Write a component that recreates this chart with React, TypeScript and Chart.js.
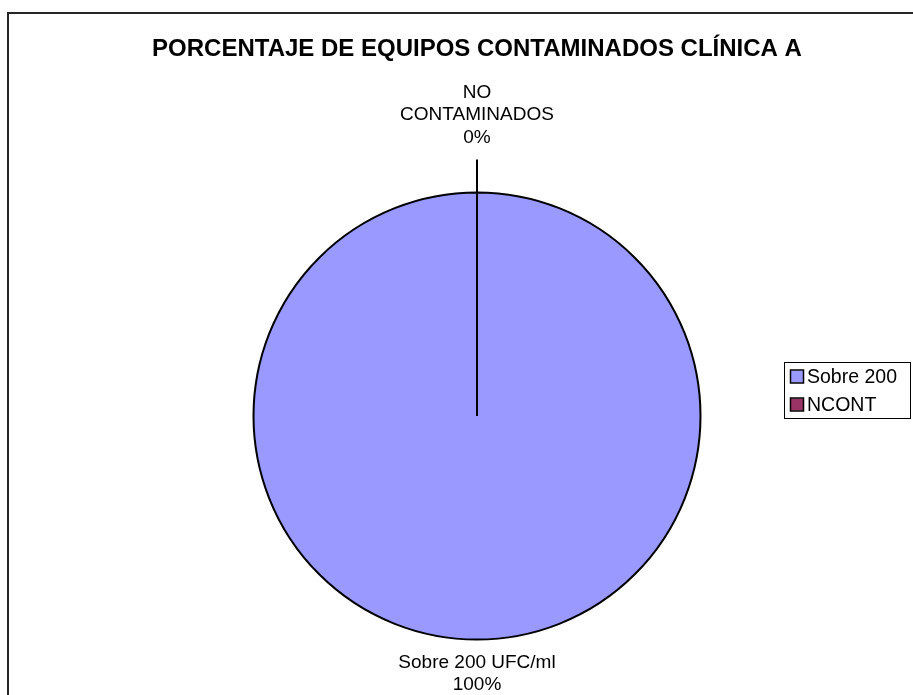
import React, { useEffect, useRef } from "react";
import { Chart, registerables } from "chart.js";

Chart.register(...registerables);

const titleText = "PORCENTAJE DE EQUIPOS CONTAMINADOS CLÍNICA A";
const categories = ["Sobre 200", "NCONT"];
const sliceNames = [["Sobre 200 UFC/ml"], ["NO", "CONTAMINADOS"]];
const values = [100, 0];
const colors = ["#9999FF", "#993366"];

const FONT = "Arial, 'Liberation Sans', Helvetica, sans-serif";

const framePlugin = {
  id: "frame",
  beforeDraw(chart: any) {
    const ctx = chart.ctx;
    ctx.save();
    ctx.fillStyle = "#ffffff";
    ctx.fillRect(0, 0, chart.width, chart.height);
    ctx.strokeStyle = "#262626";
    ctx.lineWidth = 2;
    ctx.beginPath();
    ctx.moveTo(8, chart.height);
    ctx.lineTo(8, 13);
    ctx.lineTo(chart.width, 13);
    ctx.stroke();
    ctx.restore();
  },
};

const sliceLabelPlugin = {
  id: "sliceLabels",
  afterDatasetsDraw(chart: any) {
    const ctx = chart.ctx;
    const meta = chart.getDatasetMeta(0);
    const data = chart.data.datasets[0].data as number[];
    const total = data.reduce((a, b) => a + b, 0);
    ctx.save();
    meta.data.forEach((arc: any, i: number) => {
      const p = arc.getProps(["x", "y", "startAngle", "endAngle", "outerRadius"], true);
      const mid = (p.startAngle + p.endAngle) / 2;
      const cos = Math.cos(mid);
      const sin = Math.sin(mid);
      if (data[i] === 0) {
        ctx.strokeStyle = "#000";
        ctx.lineWidth = 2;
        ctx.beginPath();
        ctx.moveTo(p.x, p.y);
        ctx.lineTo(p.x + cos * (p.outerRadius + 33), p.y + sin * (p.outerRadius + 33));
        ctx.stroke();
      }
      const pct = Math.round((data[i] / total) * 100) + "%";
      const lines = [...sliceNames[i], pct];
      const lh = 22.5;
      ctx.fillStyle = "#000";
      ctx.font = `19px ${FONT}`;
      ctx.textAlign = "center";
      ctx.textBaseline = "middle";
      if (sin < 0) {
        const ay = p.y + sin * (p.outerRadius + 55);
        const ax = p.x + cos * (p.outerRadius + 55);
        lines.forEach((t, k) => {
          ctx.fillText(t, ax, ay - (lines.length - 1 - k) * lh);
        });
      } else {
        const ay = p.y + sin * (p.outerRadius + 23);
        const ax = p.x + cos * (p.outerRadius + 23);
        lines.forEach((t, k) => {
          ctx.fillText(t, ax, ay + k * lh);
        });
      }
    });
    ctx.restore();
  },
};

const legendPlugin = {
  id: "boxLegend",
  afterDraw(chart: any) {
    const ctx = chart.ctx;
    const labels = chart.data.labels as string[];
    const bg = chart.data.datasets[0].backgroundColor as string[];
    ctx.save();
    ctx.strokeStyle = "#000";
    ctx.lineWidth = 1;
    ctx.strokeRect(784.5, 362.5, 126, 56);
    ctx.font = `19.5px ${FONT}`;
    ctx.textAlign = "left";
    ctx.textBaseline = "middle";
    labels.forEach((lab, i) => {
      const cy = 377 + i * 28;
      ctx.fillStyle = bg[i];
      ctx.fillRect(791, cy - 6.5, 12, 12);
      ctx.lineWidth = 1.5;
      ctx.strokeRect(790.5, cy - 7, 13, 13);
      ctx.fillStyle = "#000";
      ctx.fillText(lab, 807, cy + 1);
    });
    ctx.restore();
  },
};

export default function App() {
  const ref = useRef<HTMLCanvasElement | null>(null);
  useEffect(() => {
    if (!ref.current) return;
    const chart = new Chart(ref.current, {
      type: "pie",
      data: {
        labels: categories,
        datasets: [
          {
            data: values,
            backgroundColor: colors,
            borderColor: "#000000",
            borderWidth: 2,
          },
        ],
      },
      options: {
        responsive: false,
        animation: false,
        layout: { padding: { left: 50, right: 9, top: 0, bottom: 54.5 } },
        plugins: {
          legend: { display: false },
          tooltip: { enabled: false },
          title: {
            display: true,
            text: titleText,
            color: "#000",
            font: { family: FONT, size: 24, weight: "bold" },
            padding: { top: 34.6, bottom: 128.1 },
          },
        },
      },
      plugins: [framePlugin, sliceLabelPlugin, legendPlugin],
    } as any);
    return () => chart.destroy();
  }, []);
  return (
    <div style={{ width: 913, height: 695 }}>
      <canvas
        ref={ref}
        width={913}
        height={695}
        style={{ position: "absolute", left: 0, top: 0, width: 913, height: 695 }}
      />
    </div>
  );
}
